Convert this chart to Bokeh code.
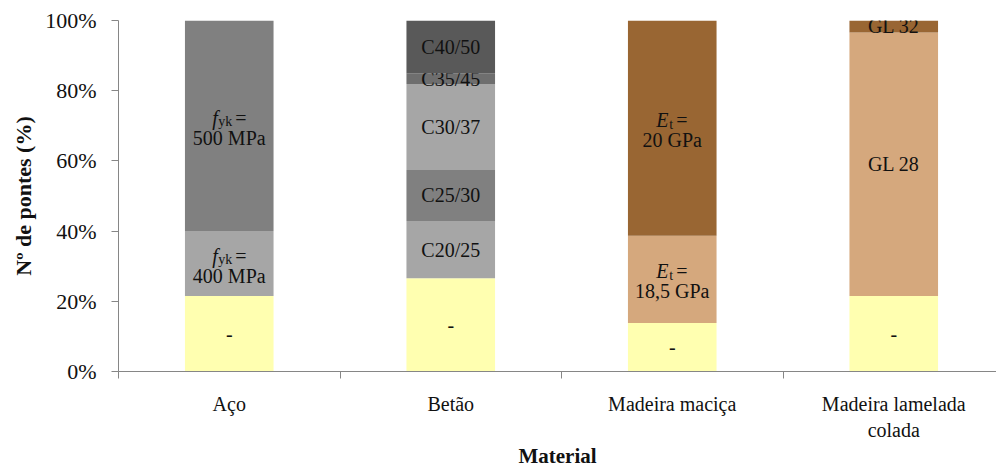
from bokeh.plotting import figure
from bokeh.models import Range1d, FixedTicker
from bokeh.core.properties import value
from bokeh.embed import file_html
from bokeh.resources import INLINE

# Share of bridges (%) per material, stacked from the bottom segment upward
materials = ["Aço", "Betão", "Madeira maciça", "Madeira lamelada\ncolada"]

aco_values = [21.5, 18.5, 60.0]
aco_labels = ["-", ("f", "yk", "400 MPa"), ("f", "yk", "500 MPa")]
aco_colors = ["#FFFFB0", "#A6A6A6", "#808080"]

betao_values = [26.6, 16.3, 14.5, 24.5, 3.1, 15.0]
betao_labels = ["-", "C20/25", "C25/30", "C30/37", "C35/45", "C40/50"]
betao_colors = ["#FFFFB0", "#A6A6A6", "#808080", "#A6A6A6", "#6E6E6E", "#595959"]

macica_values = [13.8, 24.9, 61.3]
macica_labels = ["-", ("E", "t", "18,5 GPa"), ("E", "t", "20 GPa")]
macica_colors = ["#FFFFB0", "#D5A87D", "#996633"]

lamelada_values = [21.5, 75.1, 3.4]
lamelada_labels = ["-", "GL 28", "GL 32"]
lamelada_colors = ["#FFFFB0", "#D5A87D", "#996633"]

y_ticks = [0, 20, 40, 60, 80, 100]

stacks = [
    (aco_values, aco_labels, aco_colors),
    (betao_values, betao_labels, betao_colors),
    (macica_values, macica_labels, macica_colors),
    (lamelada_values, lamelada_labels, lamelada_colors),
]

FONT = "Liberation Serif"
AXIS_GRAY = "#868686"
INK = "#111111"

W, H = 996, 470
LEFT, TOP, BOTTOM = 118, 20, 98
cat_px = 221.5
frame_w = W - LEFT

p = figure(width=W, height=H, output_backend="svg", toolbar_location=None,
           x_range=Range1d(0, frame_w / cat_px), y_range=Range1d(0, 100),
           min_border_left=LEFT, min_border_right=0,
           min_border_top=TOP, min_border_bottom=BOTTOM)
p.outline_line_color = None
p.xgrid.visible = False
p.ygrid.visible = False


def txt(x, y, s, dx=0, dy=0, size="20px", style="normal", align="center"):
    p.text(x=[x], y=[y], text=[s], x_offset=dx, y_offset=dy,
           text_font=value(FONT), text_font_style=style,
           text_font_size=size, text_align=align,
           text_baseline="middle", text_color=INK)


centers = [i + 0.5 for i in range(len(materials))]
bar_w = 0.4

for cx, (vals, labels, colors) in zip(centers, stacks):
    bottom = 0.0
    for v, lab, col in zip(vals, labels, colors):
        top = bottom + v
        p.vbar(x=cx, bottom=bottom, top=top, width=bar_w,
               fill_color=col, line_color=None)
        mid = (bottom + top) / 2
        if isinstance(lab, tuple):
            sym, sub, val = lab
            # first line: italic symbol with subscript, then "="
            if sym == "f":
                x0, xs, xe = -17, -11, 6
            else:
                x0, xs, xe = -16, -3, 4
            txt(cx, mid, sym, dx=x0, dy=-8, style="italic", align="left")
            txt(cx, mid, sub, dx=xs, dy=-4, size="14px", align="left")
            txt(cx, mid, "=", dx=xe, dy=-8, align="left")
            txt(cx, mid, val, dy=12)
        else:
            txt(cx, mid, lab)
        bottom = top

# x axis: category names at bar centres, short ticks between categories
p.xaxis.ticker = FixedTicker(ticks=centers, minor_ticks=[0, 1, 2, 3])
p.xaxis.major_label_overrides = {c: m for c, m in zip(centers, materials)}
p.xaxis.major_tick_out = 0
p.xaxis.major_tick_in = 0
p.xaxis.minor_tick_out = 7
p.xaxis.minor_tick_in = 0
p.xaxis.minor_tick_line_color = AXIS_GRAY
p.xaxis.axis_line_color = AXIS_GRAY
p.xaxis.major_label_standoff = 14
p.xaxis.major_label_text_font = FONT
p.xaxis.major_label_text_font_size = "20px"
p.xaxis.major_label_text_color = INK
p.xaxis.axis_label = "Material"
p.xaxis.axis_label_text_font = FONT
p.xaxis.axis_label_text_font_style = "bold"
p.xaxis.axis_label_text_font_size = "21px"
p.xaxis.axis_label_text_color = INK
p.xaxis.axis_label_standoff = 0

# y axis: percentages every 20 %
p.yaxis.ticker = FixedTicker(ticks=y_ticks, minor_ticks=[])
p.yaxis.major_label_overrides = {v: f"{v}%" for v in y_ticks}
p.yaxis.major_tick_out = 7
p.yaxis.major_tick_in = 0
p.yaxis.major_tick_line_color = AXIS_GRAY
p.yaxis.axis_line_color = AXIS_GRAY
p.yaxis.major_label_standoff = 15
p.yaxis.major_label_text_font = FONT
p.yaxis.major_label_text_font_size = "22px"
p.yaxis.major_label_text_color = INK
p.yaxis.axis_label = "Nº de pontes (%)"
p.yaxis.axis_label_text_font = FONT
p.yaxis.axis_label_text_font_style = "bold"
p.yaxis.axis_label_text_font_size = "22px"
p.yaxis.axis_label_text_color = INK
p.yaxis.axis_label_standoff = 6

open("out.html", "w").write(file_html(p, INLINE))
